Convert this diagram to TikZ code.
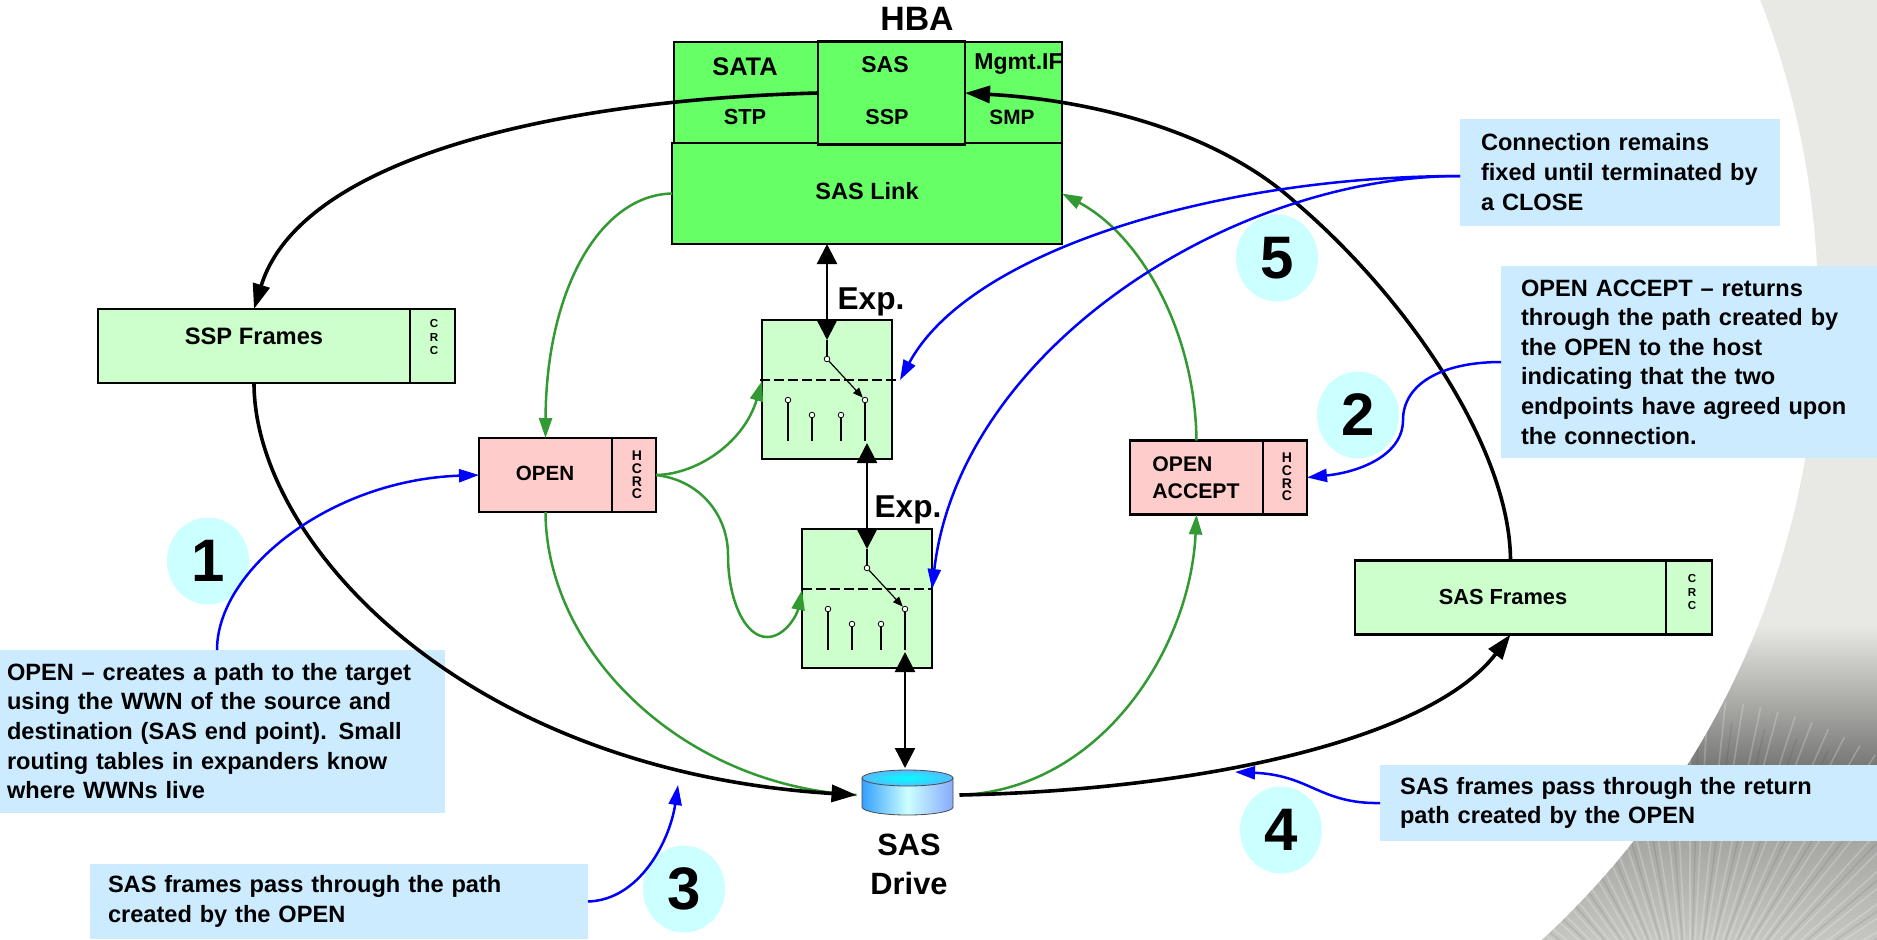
\documentclass[tikz,border=0pt]{standalone}
\usepackage{fontspec}
\setmainfont{Liberation Sans}
\usetikzlibrary{arrows.meta,calc,shapes.geometric}
\definecolor{hbagreen}{HTML}{66FF66}
\definecolor{palegreen}{HTML}{CCFFCC}
\definecolor{palered}{HTML}{FFCCCC}
\definecolor{blurbblue}{HTML}{CCEBFF}
\definecolor{stepcyan}{HTML}{CCFFFF}
\definecolor{linkgreen}{HTML}{339933}
\definecolor{backgrey}{HTML}{E8E9E4}
\definecolor{drivel}{HTML}{33A0FF}
\definecolor{drivem}{HTML}{CCFFFF}
\definecolor{driver}{HTML}{88AAFF}
\definecolor{driveo}{HTML}{55BBFF}
\tikzset{
	txt/.style={font=\bfseries\fontsize{#1}{#1}\selectfont,inner sep=0pt,align=center},
	hbabox/.style={draw=black,line width=1.4pt,fill=hbagreen,outer sep=0pt,inner sep=0pt},
	framebox/.style={draw=black,line width=1.4pt,outer sep=0pt,inner sep=0pt,minimum height=37pt},
	crclabel/.style={font=\bfseries\fontsize{#1}{#1}\selectfont,align=center,inner sep=0pt},
	blurb/.style={fill=blurbblue,anchor=west,align=left,outer sep=0pt,inner ysep=0pt,font=\bfseries\fontsize{11.8}{14.8}\selectfont},
	stepnum/.style={ellipse,fill=stepcyan,minimum width=41pt,minimum height=43.5pt,inner sep=0pt,font=\bfseries\fontsize{30}{30}\selectfont},
	contact/.style={circle,draw=black,fill=white,line width=.4pt,inner sep=0pt,minimum size=2.8pt},
	wire/.style={line width=.6pt},
	bigline/.style={line width=1.8pt,-{Triangle[length=12.5pt,width=8.5pt]}},
	updown/.style={line width=1.2pt,{Triangle[length=10pt,width=10pt]}-{Triangle[length=10pt,width=10pt]}},
	greenline/.style={linkgreen,line width=1.25pt,-{Triangle[length=10pt,width=6.5pt]}},
	blueline/.style={blue,line width=1.25pt,-{Triangle[length=10pt,width=6.5pt]}},
}
\begin{document}
\begin{tikzpicture}[x=.5pt,y=-.5pt]
	\useasboundingbox (0,0) rectangle (1877,939);
	\begin{scope}
		\clip (0,0) rectangle (1877,939);
		\fill[backgrey] (1450,0) rectangle (1877,625);
		\shade[top color=backgrey,bottom color=black!50!backgrey] (1450,625) rectangle (1877,770);
		\shade[top color=black!38!backgrey,bottom color=black!15!backgrey] (1450,770) rectangle (1877,939);
		\foreach \ang in {192,195,...,348}
			\draw[white,opacity=.22,line width=.8pt] (1690,1040) -- ++(\ang:340);
		\foreach \ang in {193.5,199.5,...,346}
			\draw[black,opacity=.08,line width=.7pt] (1690,1040) -- ++(\ang:320);
		\fill[white] (962,310) circle[radius=856];
	\end{scope}

	\node[txt=16.9] (hba) at (917,19) {HBA};
	\node[hbabox,minimum width=72pt,minimum height=50.5pt] (sata) at (746,92.5) {};
	\node[hbabox,minimum width=48.5pt,minimum height=50.5pt] (mgmt) at (1013.5,92.5) {};
	\node[hbabox,minimum width=195pt,minimum height=50.5pt] (link) at (867,193.5) {};
	\node[hbabox,minimum width=73.5pt,minimum height=51.5pt] (sas) at (891.5,93) {};
	\node[txt=12.7] at (745,67) {SATA};
	\node[txt=10.9] at (745,117) {STP};
	\node[txt=11.5] at (885,65) {SAS};
	\node[txt=10.8] at (887,117) {SSP};
	\node[txt=11.5] at (1018.5,64) {Mgmt.IF};
	\node[txt=10.4] at (1012,117) {SMP};
	\node[txt=11.75] at (867,191) {SAS Link};

	\foreach \name/\cx/\cy/\dl/\dr in {expa/827/389.5/-67/73,expb/867/598.5/-65/65}{
		\begin{scope}[shift={(\cx,\cy)}]
			\node[draw=black,line width=1.4pt,fill=palegreen,outer sep=0pt,minimum width=65pt,minimum height=69.5pt] (\name) at (0,0) {};
			\coordinate (\name tip) at (0,-49.5);
			\coordinate (\name left) at (-65,-8.5);
			\coordinate (\name right) at (\dr,-9.5);
			\coordinate (\name bot) at (38,53.5);
			\node[contact] (\name pivot) at (0,-30.5) {};
			\node[contact] (\name ca) at (-39,10.5) {};
			\node[contact] (\name cb) at (-15,25.5) {};
			\node[contact] (\name cc) at (14,25.5) {};
			\node[contact] (\name cd) at (38,10.5) {};
			\coordinate (\name wa) at (-39,51.5);
			\coordinate (\name wb) at (-15,51.5);
			\coordinate (\name wc) at (14,51.5);
			\coordinate (\name wd) at (38,51.5);
			\coordinate (\name dashl) at (\dl,-9.5);
			\draw[line width=.9pt,dash pattern=on 5pt off 2pt] (\name dashl) -- (\name right);
			\draw[wire] (\name tip) -- (\name pivot);
			\draw[wire] (\name ca) -- (\name wa);
			\draw[wire] (\name cb) -- (\name wb);
			\draw[wire] (\name cc) -- (\name wc);
			\draw[wire] (\name cd) -- (\name wd);
			\draw[wire,-{Triangle[length=5pt,width=4pt]}] (\name pivot) -- (\name cd);
		\end{scope}
	}
	\node[txt=15.8] (expalabel) at (871,302) {Exp.};
	\node[txt=15.8] (expblabel) at (908,510) {Exp.};

	\node[framebox,fill=palegreen,minimum width=156pt] (sspframes) at (254,346) {};
	\node[framebox,fill=palegreen,minimum width=22.5pt] (sspcrc) at (432.5,346) {};
	\node[framebox,fill=palered,minimum width=66.5pt] (open) at (545.5,475) {};
	\node[framebox,fill=palered,minimum width=22pt] (opencrc) at (634,475) {};
	\node[framebox,fill=palered,minimum width=66.5pt] (accept) at (1196.5,477.5) {};
	\node[framebox,fill=palered,minimum width=22pt] (acceptcrc) at (1285,477.5) {};
	\node[framebox,fill=palegreen,minimum width=155.5pt] (sasframes) at (1510.5,597.5) {};
	\node[framebox,fill=palegreen,minimum width=23pt] (sascrc) at (1689,597.5) {};
	\node[txt=11.85] at (254,336) {SSP Frames};
	\node[crclabel=5.8] at (434,337) {C\\[1.1pt]R\\[1.1pt]C};
	\node[txt=10.3] at (545,473) {OPEN};
	\node[crclabel=7] at (637,475) {H\\[-.6pt]C\\[-.6pt]R\\[-.6pt]C};
	\node[txt=10.6,align=left,anchor=west] at (1152,478) {OPEN\\[3pt]ACCEPT};
	\node[crclabel=7] at (1287,477) {H\\[-.6pt]C\\[-.6pt]R\\[-.6pt]C};
	\node[txt=10.9] at (1503,597) {SAS Frames};
	\node[crclabel=5.8] at (1692,592) {C\\[1.1pt]R\\[1.1pt]C};

	\node[minimum width=51.5pt,minimum height=27pt,inner sep=0pt,outer sep=0pt] (drive) at (908,795) {};
	\shade[left color=drivel,right color=driver,middle color=drivem,draw=black!70,line width=.4pt] (862,778) -- (862,807) arc[start angle=180,end angle=0,x radius=45.5,y radius=8] -- (953,778) -- cycle;
	\shade[inner color=cyan,outer color=driveo,draw=black!70,line width=.4pt] (907.5,778) ellipse[x radius=45.5,y radius=8];
	\node[txt=15.4,align=center] (drivelabel) at (909,864) {SAS\\[4pt]Drive};

	\node[stepnum] (stepa) at (208,561) {1};
	\node[stepnum] (stepb) at (1358,415) {2};
	\node[stepnum] (stepc) at (684,889) {3};
	\node[stepnum] (stepd) at (1281,830) {4};
	\node[stepnum] (stepe) at (1277,258) {5};

	\node[blurb,inner xsep=3.5pt,text width=215.5pt,minimum height=81.5pt] (blurbopen) at (0,731) {OPEN – creates a path to the target\\using the WWN of the source and\\destination (SAS end point).  Small\\routing tables in expanders know\\where WWNs live};
	\node[blurb,inner xsep=10.5pt,text width=139pt,minimum height=53.5pt] (blurbclose) at (1460,172) {Connection remains\\fixed until terminated by\\a CLOSE};
	\node[blurb,inner xsep=10pt,text width=168pt,minimum height=96pt] (blurbaccept) at (1501,362) {OPEN ACCEPT – returns\\through the path created by\\the OPEN to the host\\indicating that the two\\endpoints have agreed upon\\the connection.};
	\node[blurb,inner xsep=10pt,text width=228.5pt,minimum height=38pt] (blurbreturn) at (1380,803) {SAS frames pass through the return\\path created by the OPEN};
	\node[blurb,inner xsep=9pt,text width=231pt,minimum height=37.5pt] (blurbpath) at (90,901.5) {SAS frames pass through the path\\created by the OPEN};
	\coordinate (openstem) at (217,650);
	\coordinate (closestem) at (1460,176);
	\coordinate (returntip) at (1235,772);
	\coordinate (pathtip) at (678,785);

	\draw[updown] (link.south -| expa) -- (expatip);
	\draw[updown] (expabot -| expb) -- (expbtip);
	\draw[updown] (expbbot) -- (expbbot |- drive.north);

	\draw[greenline] (link.west) .. controls (600,195) and (546,290) .. (open.north);
	\draw[greenline] (opencrc.east) .. controls (700,474) and (745,440) .. (expaleft);
	\draw[greenline] (opencrc.east) .. controls (700,480) and (728,515) .. (728,555) .. controls (728,600) and (745,637) .. (767,637) .. controls (785,637) and (797,615) .. (expbleft);
	\draw[greenline,-] (open.south) .. controls (546,650) and (680,785) .. (drive.west);
	\draw[greenline] (drive.east) .. controls (1100,790) and (1190,650) .. (accept.south);
	\draw[greenline] (accept.north) .. controls (1195,330) and (1140,235) .. (link.east);

	\draw[bigline] (sas.west) .. controls (550,100) and (300,160) .. (sspframes.north);
	\draw[bigline] (sspframes.south) .. controls (254,540) and (460,770) .. (drive.west);
	\draw[bigline] (drive.east) .. controls (1200,790) and (1430,740) .. (sasframes.south);
	\draw[bigline] (sasframes.north) .. controls (1510,450) and (1410,300) .. (1295,202) .. controls (1215,130) and (1090,100) .. (sas.east);

	\draw[blueline] (openstem) .. controls (217,570) and (330,480) .. (open.west);
	\draw[blueline] (closestem) .. controls (1220,176) and (970,250) .. (exparight);
	\draw[blueline] (closestem) .. controls (1230,176) and (960,350) .. (expbright);
	\draw[blueline] (blurbaccept.west) .. controls (1440,362) and (1403,385) .. (1403,420) .. controls (1403,455) and (1360,472) .. (acceptcrc.east);
	\draw[blueline] (blurbreturn.west) .. controls (1320,804) and (1310,775) .. (returntip);
	\draw[blueline] (blurbpath.east) .. controls (640,900) and (670,840) .. (pathtip);
\end{tikzpicture}
\end{document}
